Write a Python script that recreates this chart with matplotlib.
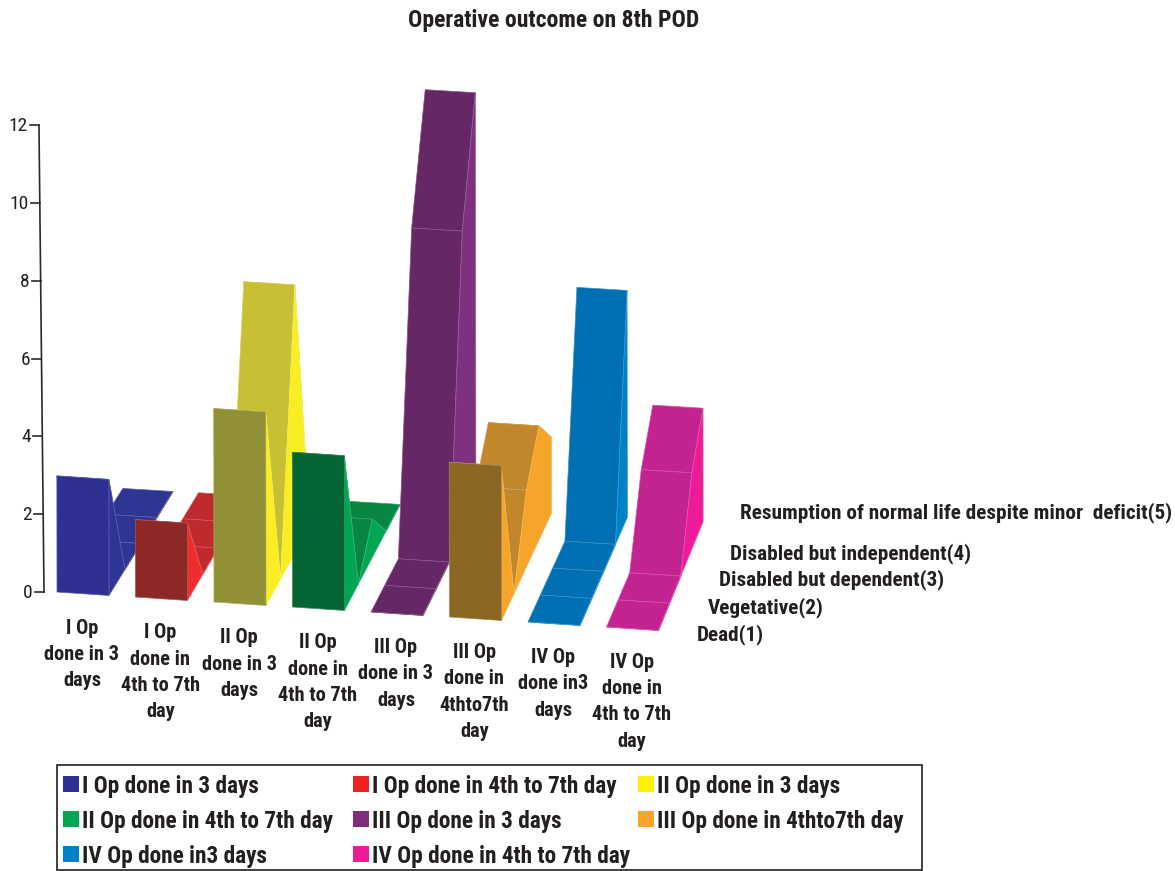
import matplotlib
matplotlib.use("Agg")
import matplotlib.pyplot as plt
from matplotlib.patches import Polygon, Rectangle
from matplotlib import font_manager as fm

# Condensed bold face for all labels, with a plain fallback.
FONT_CHOICES = ["Roboto Condensed", "Liberation Sans", "DejaVu Sans"]
installed = {f.name for f in fm.fontManager.ttflist}
plt.rcParams["font.family"] = next(n for n in FONT_CHOICES if n in installed)

CHART_TITLE = "Operative outcome on 8th POD"
SERIES_NAMES = [
    "I Op done in 3 days", "I Op done in 4th to 7th day",
    "II Op done in 3 days", "II Op done in 4th to 7th day",
    "III Op done in 3 days", "III Op done in 4thto7th day",
    "IV Op done in3 days", "IV Op done in 4th to 7th day",
]
AXIS_LABELS = [
    "I Op\ndone in 3\ndays", "I Op\ndone in\n4th to 7th\nday",
    "II Op\ndone in 3\ndays", "II Op\ndone in\n4th to 7th\nday",
    "III Op\ndone in 3\ndays", "III Op\ndone in\n4thto7th\nday",
    "IV Op\ndone in3\ndays", "IV Op\ndone in\n4th to 7th\nday",
]
OUTCOMES = [
    "Dead(1)", "Vegetative(2)", "Disabled but dependent(3)",
    "Disabled but independent(4)",
    "Resumption of normal life despite minor  deficit(5)",
]
Y_TICKS = [0, 2, 4, 6, 8, 10, 12]

op1_early = [3, 0, 0, 0, 0]
op1_late = [2, 0, 0, 0, 0]
op2_early = [5, 0, 7, 0, 0]
op2_late = [4, 0, 1, 0, 0]
op3_early = [0, 0, 0, 8, 11]
op3_late = [4, 0, 2, 3, 2]
op4_early = [0, 0, 0, 0, 6]
op4_late = [0, 0, 0, 2, 3]
SERIES_VALUES = [op1_early, op1_late, op2_early, op2_late,
                 op3_early, op3_late, op4_early, op4_late]

# (front wall, sloped top, side wall) for each ribbon
SHADES = [
    ("#2E3192", "#2E3592", "#2E3592"),
    ("#8C2825", "#BE2A2E", "#EE2D2F"),
    ("#919036", "#C8C034", "#F9ED23"),
    ("#066535", "#078543", "#00A651"),
    ("#662766", "#662766", "#7E317E"),
    ("#8C6623", "#C1872A", "#F6A52B"),
    ("#006FB3", "#006FB3", "#0080C6"),
    ("#C32391", "#C32391", "#EC1C99"),
]
LEGEND_SWATCHES = ["#2E3192", "#ED2024", "#FFF200", "#00A651",
                   "#7E2D7E", "#F6A52B", "#0080C6", "#EC1C99"]


def project(series, across, depth, value):
    """Map a point of the 3-D chart box to canvas pixels."""
    x0 = 57 + 78.5 * series + 52 * across
    y0 = 592 + 5.0 * series + 3.5 * across
    dx = 16.0 - 0.0088 * (x0 - 108)
    dy = 26.0 + 0.0022 * (x0 - 108)
    scale = 38.7 - 0.22 * depth
    return x0 + dx * depth - 0.05 * value, y0 - dy * depth - scale * value


def seam(hex_colour, amount=0.22):
    r, g, b = matplotlib.colors.to_rgb(hex_colour)
    return (r + (1 - r) * amount, g + (1 - g) * amount, b + (1 - b) * amount)


fig = plt.figure(figsize=(11.75, 8.71), dpi=100)
ax = fig.add_axes([0, 0, 1, 1])
ax.set_xlim(0, 1175)
ax.set_ylim(871, 0)
ax.axis("off")


def face(points, colour, z):
    ax.add_patch(Polygon(points, closed=True, facecolor=colour,
                         edgecolor=seam(colour), linewidth=0.5,
                         joinstyle="round", zorder=z))


# Sloped tops go back to front, then the side wall and the front wall.
for i, values in enumerate(SERIES_VALUES):
    front, top, side = SHADES[i]
    z = 10 + i * 20
    last = len(values) - 1
    for d in range(last - 1, -1, -1):
        near, far = values[d], values[d + 1]
        face([project(i, 0, d, near), project(i, 1, d, near),
              project(i, 1, d + 1, far), project(i, 0, d + 1, far)], top, z)
        z += 1
    profile = [project(i, 1, d, values[d]) for d in range(last, -1, -1)]
    face([project(i, 1, 0, 0), project(i, 1, last, 0)] + profile, side, z)
    z += 1
    face([project(i, 0, 0, 0), project(i, 1, 0, 0),
          project(i, 1, 0, values[0]), project(i, 0, 0, values[0])], front, z)


# Value axis
def axis_x(v):
    return 44 - 0.42 * v


def axis_y(v):
    return 592 - 38.9 * v


AXIS_COLOUR = "#2B2A29"
ax.plot([axis_x(0), axis_x(12)], [axis_y(0), axis_y(12)], color=AXIS_COLOUR, lw=1.2, zorder=200)
for tick in Y_TICKS:
    ax.plot([axis_x(tick) - 9, axis_x(tick)], [axis_y(tick)] * 2, color=AXIS_COLOUR, lw=1.2, zorder=200)
    ax.text(axis_x(tick) - 11, axis_y(tick) + 1, str(tick), ha="right", va="center",
            fontsize=14, color="#231F20")

TEXT = dict(color="#231F20", fontweight="bold")
ax.text(554, 21, CHART_TITLE, ha="center", va="center", fontsize=17, **TEXT)

# Category labels below each ribbon
for i, label in enumerate(AXIS_LABELS):
    for j, line in enumerate(label.split("\n")):
        ax.text(82 + 78.5 * i, 628 + 4.9 * i + 26.3 * j, line, ha="center", va="center",
                fontsize=14.7, **TEXT)

# Outcome labels along the depth axis
for label, x, y in zip(OUTCOMES, [697, 708, 719, 730, 740], [634.5, 607.5, 579.5, 553.5, 512.5]):
    ax.text(x, y, label, ha="left", va="center", fontsize=15.3, **TEXT)

# Legend
ax.add_patch(Rectangle((57, 765), 865, 105, facecolor="white", edgecolor="#231F20", lw=1.2, zorder=300))
col_x = [63, 353, 638]
row_y = [786, 821, 856]
for i, name in enumerate(SERIES_NAMES):
    r, c = i // 3, i % 3
    ax.add_patch(Rectangle((col_x[c], row_y[r] - 10), 16, 16, facecolor=LEGEND_SWATCHES[i],
                           edgecolor="none", zorder=301))
    ax.text(col_x[c] + 19, row_y[r], name, ha="left", va="center", fontsize=16.75, zorder=301, **TEXT)

fig.savefig("out.png", dpi=100)
